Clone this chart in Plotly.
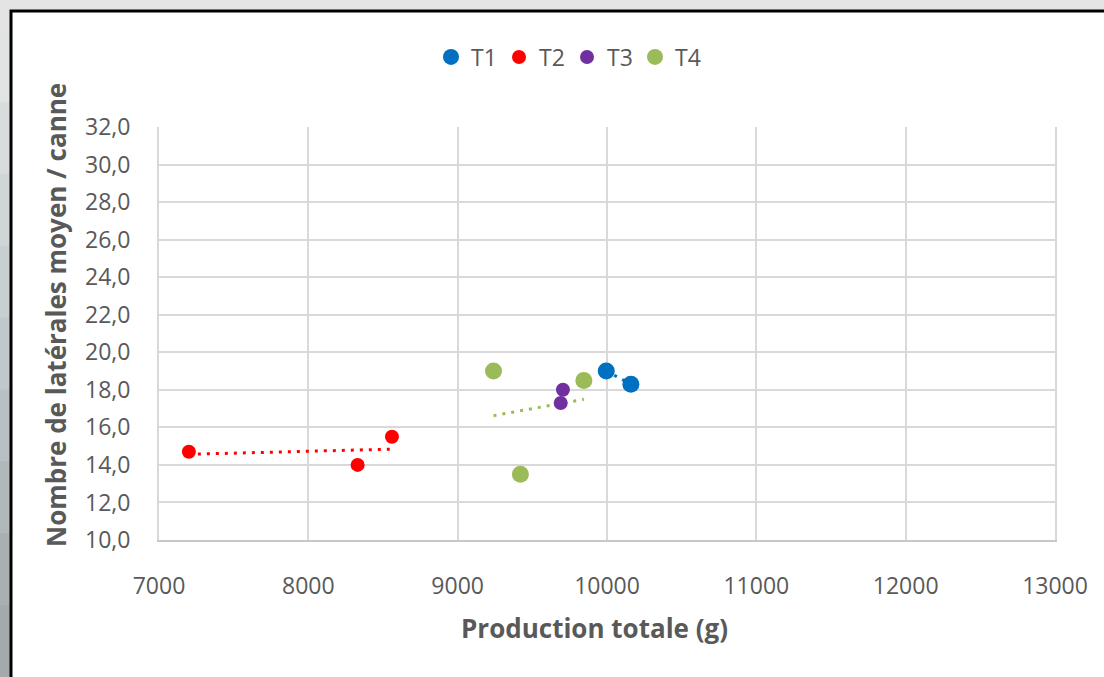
import numpy as np
import plotly.graph_objects as go

# Production totale (g) and mean number of laterals per cane, by treatment
series_names = ["T1", "T2", "T3", "T4"]
series_colors = ["#0070C0", "#FF0000", "#7030A0", "#9BBB59"]
marker_sizes = [17, 14, 14, 17]

t1_x = [9995, 10160]
t1_y = [19.0, 18.3]
t2_x = [7200, 8330, 8560]
t2_y = [14.7, 14.0, 15.5]
t3_x = [9705, 9690]
t3_y = [18.0, 17.3]
t4_x = [9240, 9420, 9845]
t4_y = [19.0, 13.5, 18.5]

x_ticks = [7000, 8000, 9000, 10000, 11000, 12000, 13000]
y_ticks = [10, 12, 14, 16, 18, 20, 22, 24, 26, 28, 30, 32]
y_tick_text = [f"{v:.1f}".replace(".", ",") for v in y_ticks]

W, H = 1104, 677
ML, MR, MT, MB = 159, 49, 127, 137
PW, PH = W - ML - MR, H - MT - MB


def px_x(p):
    return (p - ML) / PW


def px_y(p):
    return (H - MB - p) / PH


FONT = "Open Sans"
TXT = "#595959"

fig = go.Figure()

data = [(t1_x, t1_y), (t2_x, t2_y), (t3_x, t3_y), (t4_x, t4_y)]

# linear trend lines (dotted), one per treatment
for (xs, ys), col in zip(data, series_colors):
    xs_a, ys_a = np.array(xs, float), np.array(ys, float)
    slope, icpt = np.polyfit(xs_a, ys_a, 1)
    xl = np.array([xs_a.min(), xs_a.max()])
    fig.add_trace(go.Scatter(
        x=xl, y=slope * xl + icpt, mode="lines",
        line=dict(color=col, width=3, dash="3px,6px"),
        showlegend=False, hoverinfo="skip"))

for (xs, ys), name, col, sz in zip(data, series_names, series_colors, marker_sizes):
    fig.add_trace(go.Scatter(
        x=xs, y=ys, mode="markers", name=name,
        marker=dict(color=col, size=sz, line=dict(width=0))))

# outer frame: grey surround, left gradient strip, white chart area with black edge
shapes = []
shapes.append(dict(type="rect", xref="paper", yref="paper",
                   x0=px_x(-5), x1=px_x(W + 5), y0=px_y(H + 5), y1=px_y(-5),
                   fillcolor="#E4E4E4", line=dict(width=0), layer="below"))
grad = ["#E2E3E3", "#D9DCDD", "#D0D5D6", "#C8CFD1", "#C1C8CB", "#B9C0C3",
        "#B1B8BA", "#AAB0B2", "#A4A9AB"]
band = (H - 30) / len(grad)
for i, c in enumerate(grad):
    shapes.append(dict(type="rect", xref="paper", yref="paper",
                       x0=px_x(-5), x1=px_x(10), y0=px_y(30 + (i + 1) * band + 1),
                       y1=px_y(30 + i * band), fillcolor=c, line=dict(width=0),
                       layer="below"))
shapes.append(dict(type="rect", xref="paper", yref="paper",
                   x0=px_x(11), x1=px_x(W + 10), y0=px_y(H + 10), y1=px_y(11),
                   fillcolor="white", line=dict(color="black", width=3),
                   layer="below"))

fig.update_layout(
    width=W, height=H,
    margin=dict(l=ML, r=MR, t=MT, b=MB, pad=0),
    paper_bgcolor="#E4E4E4",
    plot_bgcolor="white",
    font=dict(family=FONT, color=TXT, size=23),
    shapes=shapes,
    showlegend=True,
    legend=dict(orientation="h", xref="paper", yref="paper",
                x=px_x(567), y=px_y(57), xanchor="center", yanchor="middle",
                font=dict(family=FONT, size=23, color=TXT),
                bgcolor="rgba(0,0,0,0)", itemsizing="trace",
                entrywidth=23, entrywidthmode="pixels"),
    annotations=[
        dict(text="<b>Production totale (g)</b>", xref="paper", yref="paper",
             x=px_x(594), y=px_y(628), xanchor="center", yanchor="middle",
             showarrow=False, font=dict(family=FONT, size=26, color=TXT)),
        dict(text="<b>Nombre de latérales moyen / canne</b>", xref="paper",
             yref="paper", x=px_x(56), y=px_y(315), xanchor="center",
             yanchor="middle", textangle=-90, showarrow=False,
             font=dict(family=FONT, size=26, color=TXT)),
    ],
)

fig.update_xaxes(range=[7000, 13000], tickvals=x_ticks,
                 ticktext=[str(v) for v in x_ticks],
                 showgrid=True, gridcolor="#D9D9D9", gridwidth=2,
                 showline=True, linecolor="#C8C8C8", linewidth=2, mirror=False,
                 zeroline=False, ticks="outside", ticklen=24,
                 tickcolor="rgba(0,0,0,0)",
                 tickfont=dict(family=FONT, size=23, color=TXT))
fig.update_yaxes(range=[10, 32], tickvals=y_ticks, ticktext=y_tick_text,
                 showgrid=True, gridcolor="#D9D9D9", gridwidth=2,
                 showline=True, linecolor="#D9D9D9", linewidth=2, mirror=True,
                 zeroline=False, ticks="outside", ticklen=22,
                 tickcolor="rgba(0,0,0,0)",
                 tickfont=dict(family=FONT, size=23, color=TXT))

fig.write_html("out.html")
